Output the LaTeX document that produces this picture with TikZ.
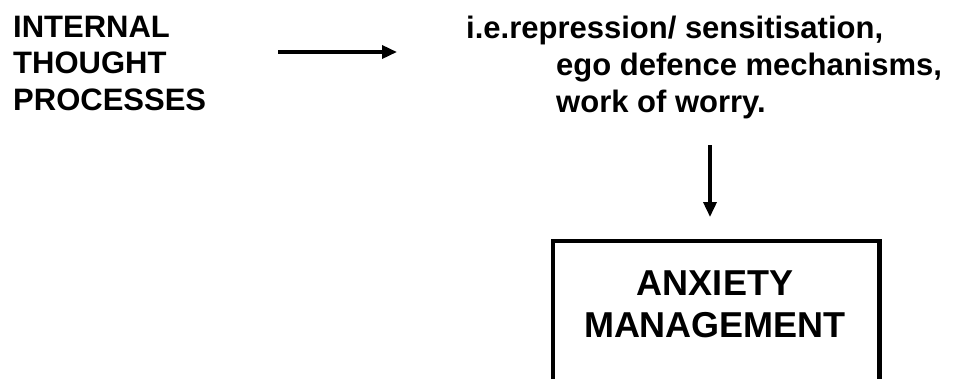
\documentclass[tikz,border=0pt]{standalone}
\usepackage{fontspec}
\setmainfont{Liberation Sans}
\usetikzlibrary{arrows.meta}
\begin{document}
\begin{tikzpicture}[x=1pt,y=-1pt,
  lbl/.style={anchor=base west,inner sep=0pt,font=\bfseries\fontsize{31}{36}\selectfont},
  boxtxt/.style={align=center,inner sep=0pt,font=\bfseries\fontsize{36}{42}\selectfont},
  conn/.style={line width=3.5pt,-{Triangle[length=15pt,width=13pt]}},
  frame/.style={line width=4.5pt,line join=miter}]
\useasboundingbox (0,0) rectangle (958,378);
% left text
\node[lbl] (l1) at (13,37) {INTERNAL};
\node[lbl] (l2) at (13,73.5) {THOUGHT};
\node[lbl] (l3) at (13,110) {PROCESSES};
% right text
\node[lbl] (r1) at (466,38) {i.e.repression/ sensitisation,};
\node[lbl] (r2) at (556,75) {ego defence mechanisms,};
\node[lbl] (r3) at (556,112) {work of worry.};
% horizontal arrow
\coordinate (h1) at (278,52);
\coordinate (h2) at (397,52);
\draw[conn] (h1) -- (h2);
% vertical arrow
\coordinate (v1) at (710,145);
\coordinate (v2) at (710,217);
\draw[conn] (v1) -- (v2);
% open box
\coordinate (bl) at (553,380);
\coordinate (tl) at (553,241);
\coordinate (tr) at (879.5,241);
\coordinate (br) at (879.5,380);
\draw[frame] (bl) -- (tl) -- (tr) -- (br);
\node[lbl,anchor=base] (b1) at (715,295) {\fontsize{36}{42}\selectfont ANXIETY};
\node[lbl,anchor=base] (b2) at (715,337) {\fontsize{36}{42}\selectfont MANAGEMENT};
\end{tikzpicture}
\end{document}
